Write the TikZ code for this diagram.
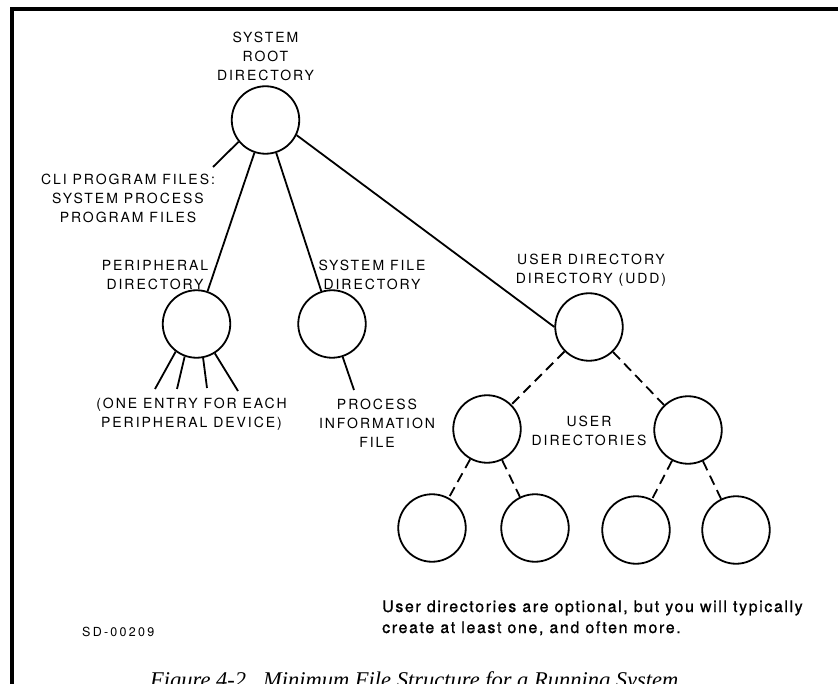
\documentclass[tikz,border=0pt]{standalone}
\usepackage{fontspec}
\setmainfont{TeX Gyre Heros}
\newfontfamily\lblfont[LetterSpace=14]{TeX Gyre Heros}
\newfontfamily\notefont[LetterSpace=10,FakeBold=1]{TeX Gyre Heros}
\newfontfamily\codefont[LetterSpace=18]{TeX Gyre Heros}
\newfontfamily\capfont{Liberation Serif}

\begin{document}
\begin{tikzpicture}[x=1pt,y=-1pt,
  dirnode/.style={circle,draw,line width=1.8pt,minimum size=67.5pt,inner sep=0pt},
  % multi-line labels are placed by the baseline of their last line
  lab/.style={font=\lblfont\fontsize{14}{19}\selectfont,align=center,inner sep=0pt,anchor=base},
  link/.style={line width=1.8pt},
  optlink/.style={line width=1.8pt,dash pattern=on 10pt off 6pt},
]
\useasboundingbox (0,0) rectangle (838,684);
\clip (0,0) rectangle (838,684);

% frame
\draw[line width=4pt] (11.5,690) -- (11.5,9.5) -- (845,9.5);

% directories
\node[dirnode] (root) at (265.5,120) {};
\node[dirnode] (per)  at (196.5,324) {};
\node[dirnode] (sfd)  at (332,324) {};
\node[dirnode] (udd)  at (589,327) {};
\node[dirnode] (ud1)  at (487,429) {};
\node[dirnode] (ud2)  at (688,430) {};
\node[dirnode] (b1)   at (432,528) {};
\node[dirnode] (b2)   at (535,528) {};
\node[dirnode] (b3)   at (636,530) {};
\node[dirnode] (b4)   at (736,530) {};

% labels
\node[lab] (rootlab) at (265.5,81) {SYSTEM\\ROOT\\DIRECTORY};
\node[lab] (clilab)  at (128,223) {CLI PROGRAM FILES:\\SYSTEM PROCESS\\PROGRAM FILES};
\node[lab] (perlab)  at (155,290) {PERIPHERAL\\DIRECTORY};
\node[lab] (sfdlab)  at (372,290) {SYSTEM FILE\\DIRECTORY};
\node[lab] (devlab)  at (191.5,428) {(ONE ENTRY FOR EACH\\PERIPHERAL DEVICE)};
\node[lab] (pinflab) at (377,447) {PROCESS\\INFORMATION\\FILE};
\node[lab] (uddlab)  at (591,284) {USER DIRECTORY\\DIRECTORY (UDD)};
\node[lab] (udlab)   at (589,445) {USER\\DIRECTORIES};

% solid links from the root
\coordinate (cliend) at (213,167);
\draw[link] (root.219) -- (cliend);
\draw[link] (root) -- (per);
\draw[link] (root) -- (sfd);
\draw[link] (root.-26) -- (udd.west);

% peripheral device entries
\coordinate (dev1) at (155,389);
\coordinate (dev2) at (177,389);
\coordinate (dev3) at (207,388);
\coordinate (dev4) at (238,391);
\draw[link] (per.233) -- (dev1);
\draw[link] (per.250) -- (dev2);
\draw[link] (per.281) -- (dev3);
\draw[link] (per.302) -- (dev4);

% process information file
\coordinate (pinf) at (354,390);
\draw[link] (sfd.288) -- (pinf);

% optional user directories
\draw[optlink] (udd) -- (ud1);
\draw[optlink] (udd) -- (ud2);
\draw[optlink] (ud1) -- (b1);
\draw[optlink] (ud1) -- (b2);
\draw[optlink] (ud2) -- (b3);
\draw[optlink] (ud2) -- (b4);

% notes and caption
\node[anchor=base west,font=\notefont\fontsize{16}{21}\selectfont,align=left,inner sep=0pt] (note) at (382,633)
  {User directories are optional, but you will typically\\create at least one, and often more.};
\node[anchor=base west,font=\codefont\fontsize{12.5}{15}\selectfont,inner sep=0pt] (sd) at (82,636) {SD-00209};
\node[anchor=base west,font=\capfont\itshape\fontsize{22.5}{27}\selectfont,inner sep=0pt] (cap) at (150,687)
  {Figure 4-2.\ \ Minimum File Structure for a Running System};
\end{tikzpicture}
\end{document}
